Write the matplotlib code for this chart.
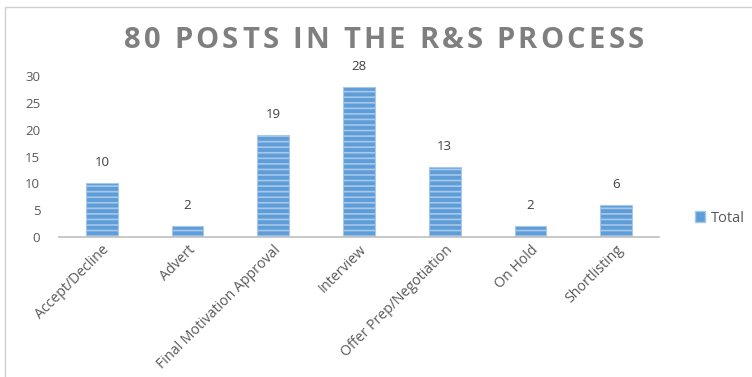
import matplotlib
matplotlib.use("Agg")
import matplotlib.pyplot as plt
from matplotlib.patches import Rectangle, Patch

plt.rcParams['font.family'] = ['Open Sans', 'DejaVu Sans']
plt.rcParams['hatch.linewidth'] = 1.2

categories = ["Accept/Decline", "Advert", "Final Motivation Approval", "Interview",
              "Offer Prep/Negotiation", "On Hold", "Shortlisting"]
totals = [10, 2, 19, 28, 13, 2, 6]
y_ticks = [0, 5, 10, 15, 20, 25, 30]
title = "80 POSTS IN THE R&S PROCESS"

bar_face = "#5E9DD7"
bar_stripe = "#A7C8EA"
text_grey = "#595959"

fig = plt.figure(figsize=(7.52, 3.77), dpi=100)

# chart area border
fig.patches.append(Rectangle((5 / 752, -0.1), 1.0, 1.1 - 7 / 377, transform=fig.transFigure,
                             fill=False, edgecolor="#D0D0D0", linewidth=1.0, zorder=0))

ax = fig.add_axes([59 / 752, 1 - 237 / 377, 600 / 752, 161 / 377])
x = range(len(categories))
ax.bar(x, totals, width=0.37, color=bar_face, edgecolor=bar_stripe,
       hatch="---", linewidth=0.8, label="Total", zorder=2)

for xi, v in zip(x, totals):
    ax.annotate(str(v), (xi, v), xytext=(0, 10), textcoords="offset points",
                ha="center", va="bottom", fontsize=9.5, color="#404040")

ax.set_xlim(-0.5, len(categories) - 0.5)
ax.set_ylim(0, 30)
ax.set_yticks(y_ticks)
ax.set_yticklabels([str(t) for t in y_ticks], fontsize=9.5, color=text_grey)
ax.set_xticks(list(x))
ax.set_xticklabels(categories, rotation=45, ha="right", rotation_mode="anchor",
                   fontsize=10.2, color=text_grey)
ax.tick_params(axis="both", length=0)
ax.tick_params(axis="y", pad=13.5)
ax.tick_params(axis="x", pad=4)
for side in ("top", "right", "left"):
    ax.spines[side].set_visible(False)
ax.spines["bottom"].set_color("#BFBFBF")
ax.spines["bottom"].set_linewidth(1.2)

# Title with widened letter spacing, laid out one character at a time
renderer = fig.canvas.get_renderer()
title_kw = dict(fontsize=21, fontweight="bold", color="#7F7F7F")
tracking = 3.2  # extra pixels between characters


def text_width(s):
    t = fig.text(0, 0, s + "X", **title_kw)
    w = t.get_window_extent(renderer).width
    t.remove()
    t = fig.text(0, 0, "X", **title_kw)
    w -= t.get_window_extent(renderer).width
    t.remove()
    return w


total_w = text_width(title) + tracking * (len(title) - 1)
x0 = 384 - total_w / 2
y_title = 1 - 41 / 377
for i, ch in enumerate(title):
    px = x0 + text_width(title[:i]) + tracking * i
    fig.text(px / 752, y_title, ch, ha="left", va="center", **title_kw)

fig.legend(handles=[Patch(facecolor=bar_face, edgecolor=bar_stripe, label="Total")],
           loc="center left", bbox_to_anchor=(682 / 752, 1 - 218 / 377), frameon=False,
           fontsize=10.5, handlelength=0.7, handleheight=0.7, handletextpad=0.4,
           labelcolor=text_grey)

fig.savefig("out.png", dpi=100)
